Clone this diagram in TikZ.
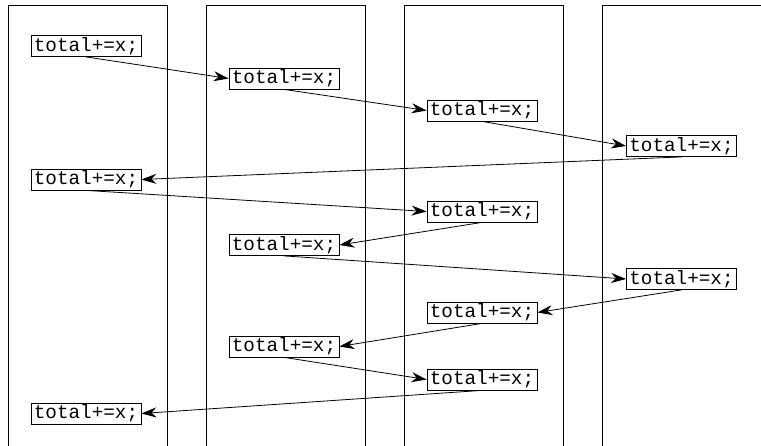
\documentclass[tikz,border=0pt]{standalone}
\usepackage{fontspec}
\setmonofont{Liberation Mono}
\usetikzlibrary{arrows.meta}
\begin{document}
\begin{tikzpicture}[x=1pt,y=-1pt,
  stmt/.style={draw,line width=0.8pt,inner sep=0pt,minimum width=110pt,minimum height=21pt,font=\fontsize{19.3}{19.3}\selectfont\ttfamily},
  lane/.style={line width=0.9pt},
  msg/.style={line width=0.8pt,-{Stealth[length=15pt,width=10pt]}}]
\useasboundingbox (0,0) rectangle (761,446);
\clip (0,0) rectangle (761,446);
\draw[lane] (8,450) -- (8,5.5) -- (167,5.5) -- (167,450);
\draw[lane] (206,450) -- (206,5.5) -- (365,5.5) -- (365,450);
\draw[lane] (404,450) -- (404,5.5) -- (563,5.5) -- (563,450);
\draw[lane] (602,450) -- (602,5.5) -- (770,5.5);
\node[stmt] (b1) at (86,46) {total+=x;};
\node[stmt] (b2) at (284,78.5) {total+=x;};
\node[stmt] (b3) at (482,110.5) {total+=x;};
\node[stmt] (b4) at (681.5,146) {total+=x;};
\node[stmt] (b5) at (86,179.5) {total+=x;};
\node[stmt] (b6) at (482,211.5) {total+=x;};
\node[stmt] (b7) at (284,245) {total+=x;};
\node[stmt] (b8) at (681.5,279) {total+=x;};
\node[stmt] (b9) at (482,312.5) {total+=x;};
\node[stmt] (b10) at (284,346.5) {total+=x;};
\node[stmt] (b11) at (482,379.5) {total+=x;};
\node[stmt] (b12) at (86,413.5) {total+=x;};
\draw[msg] (b1.south) -- (b2.west);
\draw[msg] (b2.south) -- (b3.west);
\draw[msg] (b3.south) -- (b4.west);
\draw[msg] (b4.south) -- (b5.east);
\draw[msg] (b5.south) -- (b6.west);
\draw[msg] (b6.south) -- (b7.east);
\draw[msg] (b7.south) -- (b8.west);
\draw[msg] (b8.south) -- (b9.east);
\draw[msg] (b9.south) -- (b10.east);
\draw[msg] (b10.south) -- (b11.west);
\draw[msg] (b11.south) -- (b12.east);
\end{tikzpicture}
\end{document}
